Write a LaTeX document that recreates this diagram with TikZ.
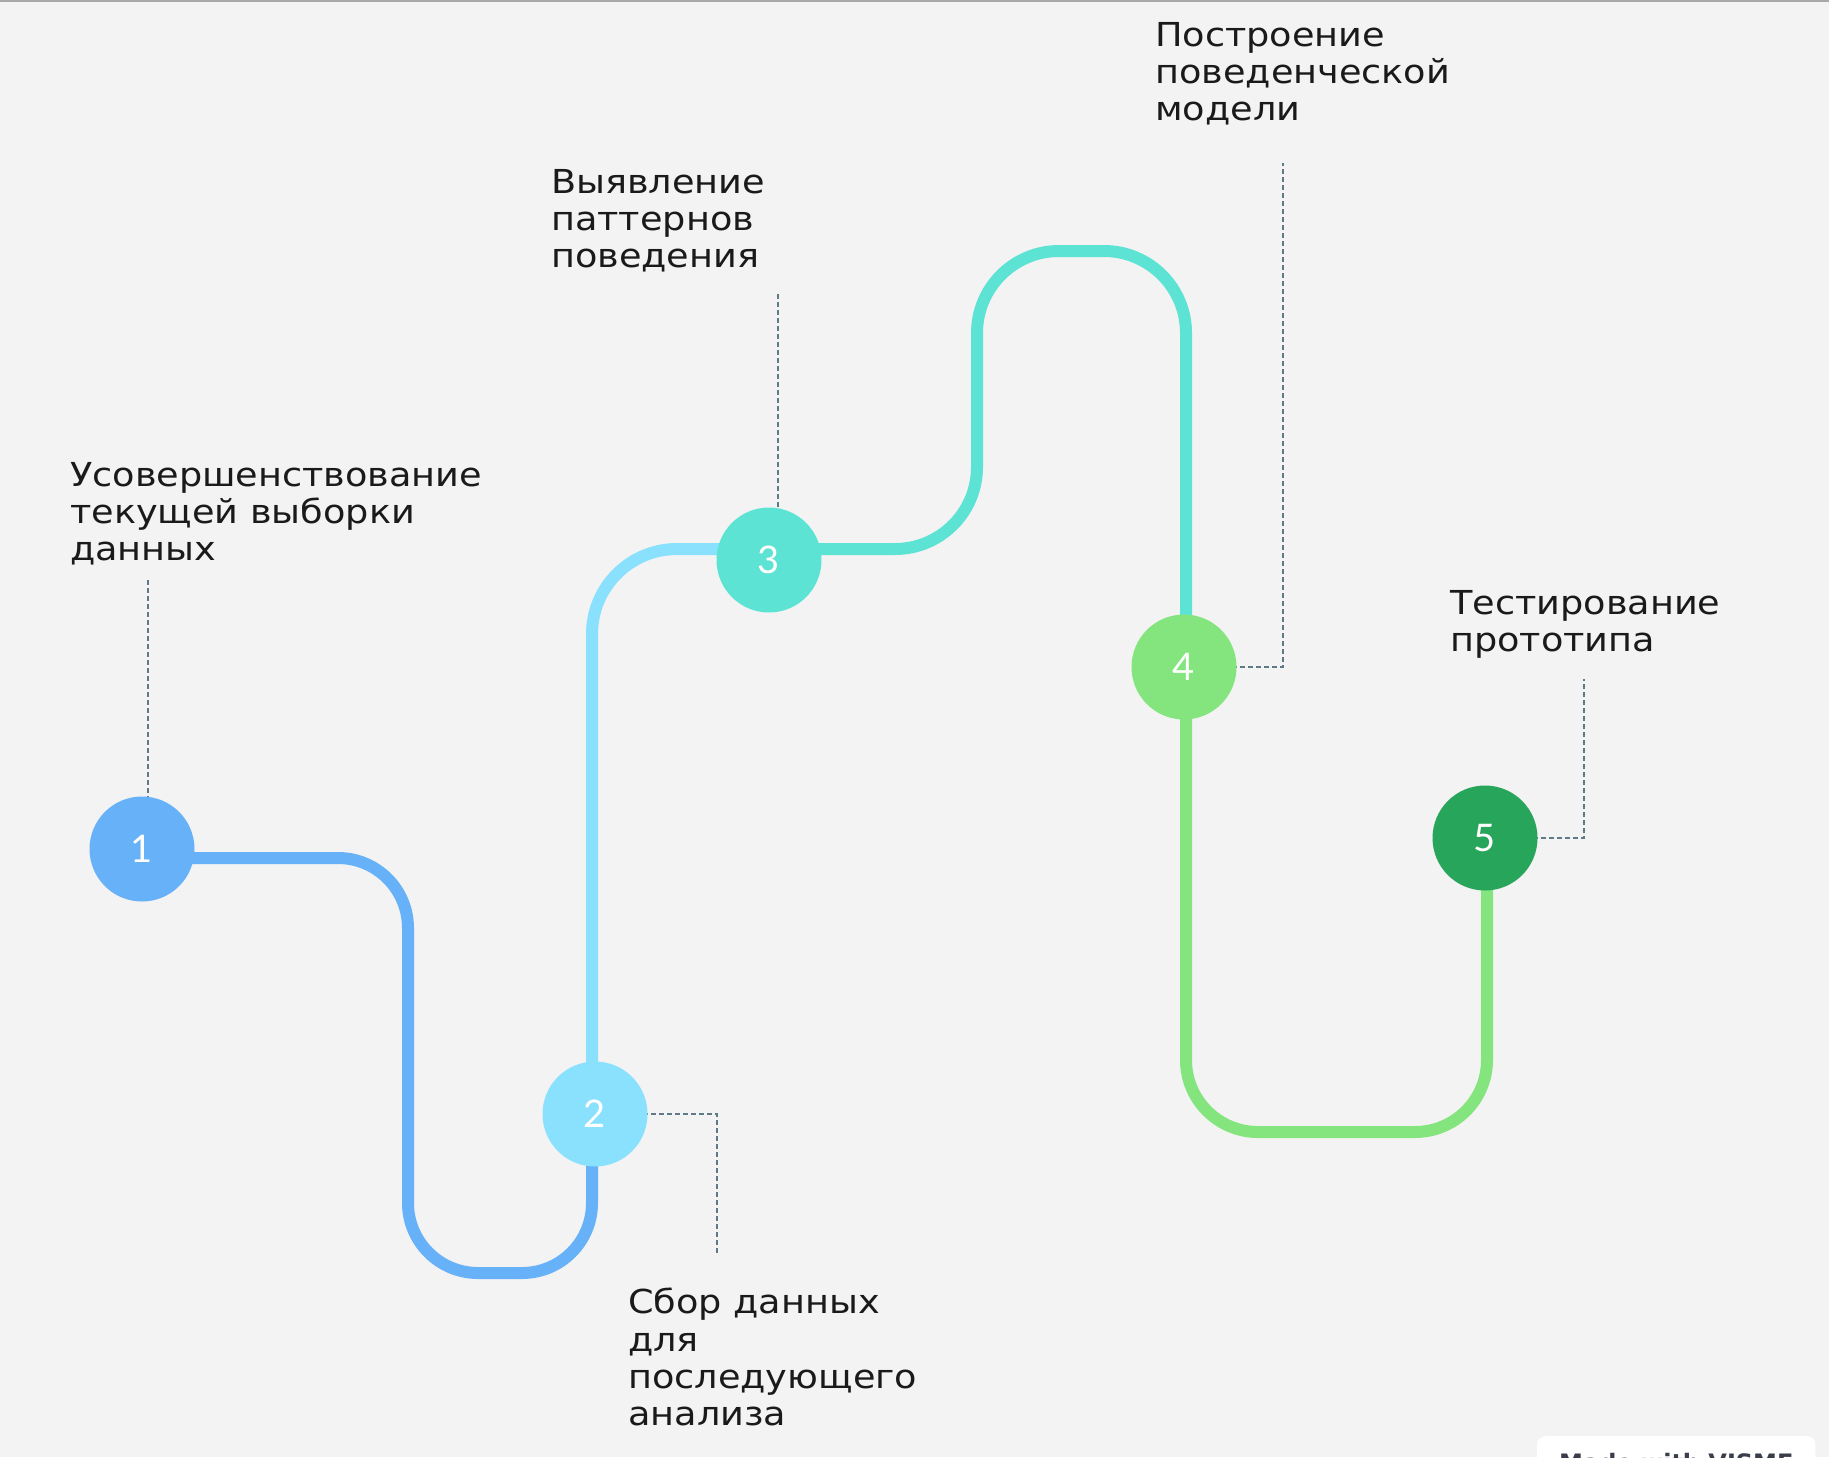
\documentclass[tikz,border=0pt]{standalone}
\usepackage{fontspec}
\setmainfont[FakeStretch=1.11]{DejaVu Sans}
\newfontfamily\numfont{Lato}
\newfontfamily\wmfont{DejaVu Sans}
\usetikzlibrary{backgrounds}
\definecolor{bgc}{HTML}{F3F3F3}
\definecolor{topline}{HTML}{A8A8A8}
\definecolor{cA}{HTML}{67B1F8}
\definecolor{cB}{HTML}{8AE1FE}
\definecolor{cC}{HTML}{5CE3D4}
\definecolor{cD}{HTML}{84E47E}
\definecolor{cE}{HTML}{27A55A}
\definecolor{leadc}{HTML}{5E7A87}
\definecolor{txt}{HTML}{1A1A1A}
\definecolor{wmtxt}{HTML}{3A3D4A}
\begin{document}
\begin{tikzpicture}[x=1pt,y=-1pt,
  stepdot/.style={circle, minimum size=105pt, inner sep=0pt, text=white,
    font=\numfont\fontsize{38}{44}\selectfont},
  track/.style={line width=12pt, rounded corners=#1},
  lead/.style={draw=leadc, line width=1.6pt, dash pattern=on 5pt off 3pt},
  lbl/.style={anchor=north west, inner sep=0pt, align=left, text=txt,
    font=\fontsize{33}{37.3}\selectfont}]
\useasboundingbox (0,0) rectangle (1829,1457);
\begin{scope}[on background layer]
  \fill[bgc] (0,0) rectangle (1829,1457);
  \fill[topline] (0,0) rectangle (1829,2);
\end{scope}

% step circles
\node[stepdot, fill=cA] (c1) at (142,849) {1};
\node[stepdot, fill=cB] (c2) at (595,1114) {2};
\node[stepdot, fill=cC] (c3) at (769,560) {3};
\node[stepdot, fill=cD] (c4) at (1184,667) {4};
\node[stepdot, fill=cE] (c5) at (1485,838) {5};

% labels
\node[lbl] (t1) at (70,462) {Усовершенствование\\текущей выборки\\данных};
\node[lbl] (t2) at (628,1288) {Сбор данных\\для\\последующего\\анализа};
\node[lbl] (t3) at (551,169) {Выявление\\паттернов\\поведения};
\node[lbl] (t4) at (1155,22) {Построение\\поведенческой\\модели};
\node[lbl] (t5) at (1450,590) {Тестирование\\прототипа};

% free ends of leader lines
\coordinate (e1) at (148,580);
\coordinate (e2) at (717,1254);
\coordinate (e3) at (778,294);
\coordinate (e4) at (1283,163);
\coordinate (e5) at (1584,679);

\begin{scope}[on background layer]
  % tracks
  \draw[track=70pt, cA] ([yshift=-9pt]c1.center) -- (408,858) -- (408,1273) -- (592,1273) -- (592,1114);
  \draw[track=85pt, cB] (592,1114) -- (592,549) -- (c3.center |- 0,549);
  \draw[track=82pt, cC] (c3.center |- 0,549) -- (977,549) -- (977,251) -- (1186,251) -- (1186,667);
  \draw[track=72pt, cD] (1186,667) -- (1186,1132) -- (1487,1132) -- (1487,838);
  % leader lines
  \draw[lead] (e1) -- (e1 |- c1.center);
  \draw[lead] (c2.center) -- (e2 |- c2.center) -- (e2);
  \draw[lead] (e3) -- (e3 |- c3.center);
  \draw[lead] (c4.center) -- (e4 |- c4.center) -- (e4);
  \draw[lead] (c5.center) -- (e5 |- c5.center) -- (e5);
\end{scope}

% watermark badge, cut by the lower edge
\begin{scope}
  \clip (0,0) rectangle (1829,1457);
  \node[fill=white, rounded corners=8pt, anchor=north west, inner xsep=22pt, inner ysep=17pt,
    text=wmtxt, font=\wmfont\bfseries\fontsize{24}{28}\selectfont] (wm) at (1537,1436) {Made with VISME};
\end{scope}
\end{tikzpicture}
\end{document}
